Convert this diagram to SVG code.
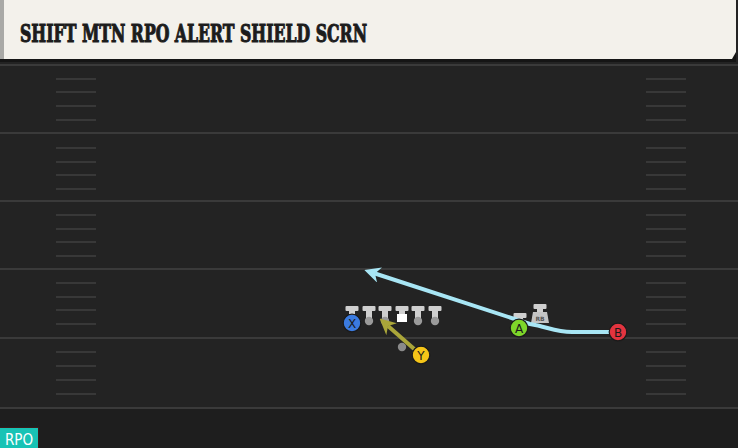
<svg xmlns="http://www.w3.org/2000/svg" width="738" height="448" viewBox="0 0 738 448">
<style>
.yl{stroke:#3a3a3a;stroke-width:2}
.hs{stroke:#383838;stroke-width:2}
.bar{fill:#cfcfcf}
.dot{fill:#9a9a9a}
.pc{stroke:#1a1a1a;stroke-width:1.2}
.pl{font-family:"DejaVu Sans","Liberation Sans",sans-serif;font-size:12px;fill:#1a1a1a;text-anchor:middle}
</style>
<defs>
<g id="T"><rect class="bar" x="-6.5" y="-3" width="13" height="5" rx="1"/><rect class="bar" x="-3" y="1" width="6" height="10"/><circle class="dot" cx="0" cy="12" r="4.2"/></g>
<marker id="ab" viewBox="0 0 10 10" refX="3" refY="5" markerWidth="4" markerHeight="4" orient="auto" markerUnits="strokeWidth"><path d="M0,0 L10,5 L0,10 L3,5 Z" fill="#a8e6f5"/></marker>
<marker id="ay" viewBox="0 0 10 10" refX="3" refY="5" markerWidth="4" markerHeight="4" orient="auto" markerUnits="strokeWidth"><path d="M0,0 L10,5 L0,10 L3,5 Z" fill="#aaa63a"/></marker>
</defs>
<rect x="0" y="0" width="738" height="448" fill="#232323"/>
<rect x="0" y="408" width="738" height="40" fill="#1e1e1e"/>
<g id="field">
<line class="yl" x1="0" y1="65" x2="738" y2="65"/>
<line class="yl" x1="0" y1="133" x2="738" y2="133"/>
<line class="yl" x1="0" y1="201" x2="738" y2="201"/>
<line class="yl" x1="0" y1="269" x2="738" y2="269"/>
<line class="yl" x1="0" y1="338" x2="738" y2="338"/>
<line class="yl" x1="0" y1="408" x2="738" y2="408"/>
<g class="hs">
<path d="M56 79H96M56 92H96M56 106H96M56 120H96M56 148H96M56 162H96M56 175H96M56 189H96M56 215H96M56 229H96M56 242H96M56 256H96M56 283H96M56 297H96M56 310H96M56 324H96M56 352H96M56 366H96M56 380H96M56 394H96"/>
<path d="M646 79H686M646 92H686M646 106H686M646 120H686M646 148H686M646 162H686M646 175H686M646 189H686M646 215H686M646 229H686M646 242H686M646 256H686M646 283H686M646 297H686M646 310H686M646 324H686M646 352H686M646 366H686M646 380H686M646 394H686"/>
</g>
</g>
<g id="header">
<rect x="0" y="0" width="736" height="62" fill="#151515"/>
<path d="M0 0H736V52L732 59H0Z" fill="#f3f1eb"/>
<rect x="0" y="0" width="4" height="59" fill="#a9a9a6"/>
<text x="20" y="42" font-family="'DejaVu Serif Condensed','DejaVu Serif',serif" font-weight="bold" font-size="24" fill="#1c1c1c" stroke="#1c1c1c" stroke-width="1" textLength="347" lengthAdjust="spacingAndGlyphs">SHIFT MTN RPO ALERT SHIELD SCRN</text>
</g>
<g id="line">
<use href="#T" x="352" y="309"/>
<use href="#T" x="369" y="309"/>
<use href="#T" x="385" y="309"/>
<g><rect class="bar" x="395.5" y="306" width="13" height="5" rx="1"/><rect class="bar" x="399" y="310" width="6" height="5"/><rect x="397" y="314" width="10" height="8" fill="#ffffff"/></g>
<use href="#T" x="418" y="309"/>
<use href="#T" x="435" y="309"/>
<use href="#T" x="520" y="316"/>
</g>
<g id="rb">
<rect class="bar" x="533.5" y="304" width="13" height="5" rx="1"/>
<rect class="bar" x="537" y="308" width="6" height="5"/>
<path d="M533 312H547L549 323H531Z" fill="#c4c4c4"/>
<text x="540" y="321" font-family="'DejaVu Sans',sans-serif" font-size="6" font-weight="bold" fill="#555" text-anchor="middle">RB</text>
</g>
<g id="connectors">
<circle cx="402" cy="347" r="4.2" fill="#8a8a8a"/>
<path d="M618 332 L572 332 C555 332 548 327 530 324 L375 273.5" fill="none" stroke="#a8e6f5" stroke-width="4" stroke-linejoin="round" marker-end="url(#ab)"/>
<path d="M421 355 L388 326" fill="none" stroke="#aaa63a" stroke-width="4" marker-end="url(#ay)"/>
</g>
<g id="X"><circle class="pc" cx="352" cy="323" r="8.8" fill="#3b7be0"/><text class="pl" x="352" y="327.5">X</text></g>
<g id="Y"><circle class="pc" cx="421" cy="355" r="8.8" fill="#f5c518"/><text class="pl" x="421" y="359.5">Y</text></g>
<g id="A"><circle class="pc" cx="519" cy="328" r="8.8" fill="#7ed62a"/><text class="pl" x="519" y="332.5">A</text></g>
<g id="B"><circle class="pc" cx="618" cy="332" r="8.8" fill="#e3343f"/><text class="pl" x="618" y="336.5">B</text></g>
<g id="rpo">
<rect x="0" y="427" width="39" height="21" fill="#3a1a1a"/>
<rect x="0" y="428" width="38" height="20" fill="#18c3b5"/>
<text x="19" y="444.5" font-family="'DejaVu Sans Condensed','DejaVu Sans',sans-serif" font-size="15" fill="#ffffff" text-anchor="middle">RPO</text>
</g>
</svg>
